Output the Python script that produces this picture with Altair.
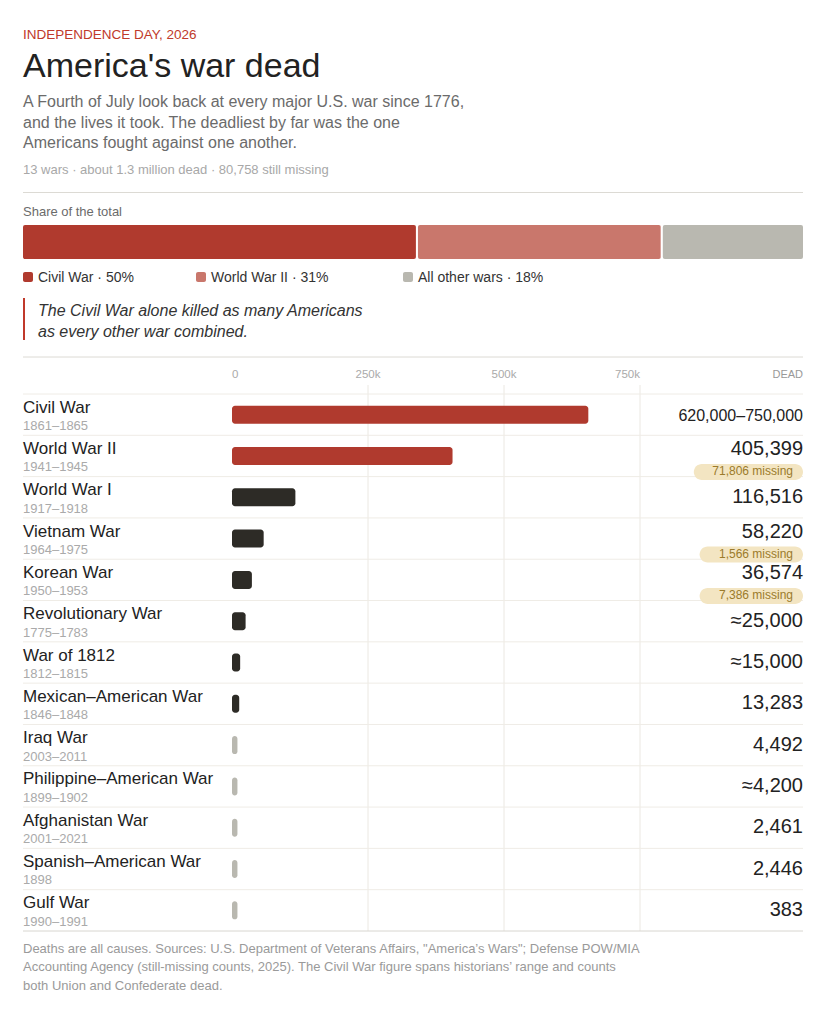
import altair as alt
import pandas as pd

# ---------------- data ----------------
WARS = ["Civil War", "World War II", "World War I", "Vietnam War", "Korean War",
        "Revolutionary War", "War of 1812", "Mexican–American War", "Iraq War",
        "Philippine–American War", "Afghanistan War", "Spanish–American War", "Gulf War"]
YEARS = ["1861–1865", "1941–1945", "1917–1918", "1964–1975", "1950–1953",
         "1775–1783", "1812–1815", "1846–1848", "2003–2011",
         "1899–1902", "2001–2021", "1898", "1990–1991"]
DEAD = [655000, 405399, 116516, 58220, 36574, 25000, 15000, 13283, 4492, 4200, 2461, 2446, 383]
DEAD_LABELS = ["620,000–750,000", "405,399", "116,516", "58,220", "36,574", "≈25,000",
               "≈15,000", "13,283", "4,492", "≈4,200", "2,461", "2,446", "383"]
MISSING = [None, 71806, None, 1566, 7386, None, None, None, None, None, None, None, None]

SHARE_NAMES = ["Civil War", "World War II", "All other wars"]
SHARE_PCT = [50, 31, 18]

TICKS = [0, 250000, 500000, 750000]
TICK_LABELS = ["0", "250k", "500k", "750k"]

EYEBROW = "INDEPENDENCE DAY, 2026"
TITLE = "America's war dead"
SUBTITLE = ["A Fourth of July look back at every major U.S. war since 1776,",
            "and the lives it took. The deadliest by far was the one",
            "Americans fought against one another."]
STATS = "13 wars · about 1.3 million dead · 80,758 still missing"
SHARE_TITLE = "Share of the total"
QUOTE = ["The Civil War alone killed as many Americans",
         "as every other war combined."]
FOOTER = ["Deaths are all causes. Sources: U.S. Department of Veterans Affairs, \"America’s Wars\"; Defense POW/MIA",
          "Accounting Agency (still-missing counts, 2025). The Civil War figure spans historians’ range and counts",
          "both Union and Confederate dead."]

# ---------------- style / layout ----------------
FONT = "Liberation Sans"
RED, PINK, GRAY, DARK = "#b03a2e", "#c9776c", "#b9b8b0", "#2d2b26"
PILL_FILL, PILL_TEXT = "#f3e5c2", "#9b7b2b"
LEFT, RIGHT = 15, 795
LEG_X = [15, 188, 395]

rows = pd.DataFrame({
    "war": WARS, "years": YEARS, "dead": DEAD, "label": DEAD_LABELS,
    "missing_label": [f"{int(m):,} missing" if m is not None else "" for m in MISSING],
})
rows["group"] = ["top" if i < 2 else ("mid" if d >= 10000 else "low") for i, d in enumerate(DEAD)]
rows["has_pill"] = [m is not None for m in MISSING]
rows["is_range"] = [i == 0 for i in range(len(WARS))]

share = pd.DataFrame({"name": SHARE_NAMES, "pct": SHARE_PCT, "idx": list(range(len(SHARE_NAMES)))})
ticks = pd.DataFrame({"tick": TICKS, "lab": TICK_LABELS})
one = pd.DataFrame({"k": [0]})

XS = alt.Scale(domain=[0, 750000], range=[224, 632])
YS = alt.Scale(domain=WARS, range=[386, 923], paddingInner=0, paddingOuter=0)
Y = alt.Y("war:N", scale=YS, axis=None)


def txt(text, x, y, size, color, align="left", style="normal", lh=None, weight="normal"):
    kw = dict(align=align, baseline="alphabetic", fontSize=size, color=color, font=FONT,
              fontStyle=style, fontWeight=weight)
    if lh:
        kw["lineHeight"] = lh
    return alt.Chart(one).mark_text(**kw).encode(x=alt.value(x), y=alt.value(y), text=alt.value(text))


def hline(y, color):
    return alt.Chart(one).mark_rule(color=color, strokeWidth=1).encode(
        x=alt.value(LEFT), x2=alt.value(RIGHT), y=alt.value(y))


layers = []
# header
layers.append(txt(EYEBROW, LEFT, 31, 13.5, "#c0392b"))
layers.append(txt(TITLE, LEFT, 68.5, 34, "#222222"))
layers.append(txt(SUBTITLE, LEFT, 99.3, 16, "#6b6b6b", lh=20.5))
layers.append(txt(STATS, LEFT, 166, 13, "#a8a8a8"))
layers.append(hline(184.5, "#dcdad4"))
layers.append(txt(SHARE_TITLE, LEFT, 207.7, 13, "#6b6b6b"))

# share bar (stacked, drawn from the share values)
SX = alt.Scale(domain=[0, sum(SHARE_PCT)], range=[LEFT - 1, RIGHT + 1])
layers.append(alt.Chart(share).transform_stack(
    stack="pct", as_=["s0", "s1"], groupby=[], sort=[alt.SortField("idx", order="ascending")]
).mark_rect(stroke="white", strokeWidth=2, cornerRadius=3).encode(
    x=alt.X("s0:Q", scale=SX, axis=None), x2="s1:Q",
    y=alt.value(216), y2=alt.value(252),
    color=alt.Color("name:N", scale=alt.Scale(domain=SHARE_NAMES, range=[RED, PINK, GRAY]), legend=None),
))

# legend
for i, (nm, pc) in enumerate(zip(SHARE_NAMES, SHARE_PCT)):
    col = [RED, PINK, GRAY][i]
    layers.append(alt.Chart(one).mark_rect(color=col, cornerRadius=2).encode(
        x=alt.value(LEG_X[i]), x2=alt.value(LEG_X[i] + 10), y=alt.value(264), y2=alt.value(274)))
    layers.append(txt(f"{nm} · {pc}%", LEG_X[i] + 15, 274, 14, "#333333"))

# quote
layers.append(alt.Chart(one).mark_rule(color="#c0392b", strokeWidth=2).encode(
    x=alt.value(16), y=alt.value(290), y2=alt.value(332)))
layers.append(txt(QUOTE, 30, 307.5, 16, "#333333", style="italic", lh=21))

layers.append(hline(349, "#dcdad4"))

# axis labels
for flt, al in [("datum.tick == 0", "left"),
                ("datum.tick > 0 && datum.tick < 750000", "center"),
                ("datum.tick == 750000", "right")]:
    layers.append(alt.Chart(ticks).transform_filter(flt).mark_text(
        align=al, baseline="alphabetic", fontSize=11.5, color="#aaaaaa", font=FONT).encode(
        x=alt.X("tick:Q", scale=XS, axis=None), y=alt.value(370), text="lab:N"))
layers.append(txt("DEAD", RIGHT, 370, 11, "#999999", align="right"))

# gridlines
layers.append(alt.Chart(ticks).transform_filter("datum.tick > 0").mark_rule(color="#ebe8e2").encode(
    x=alt.X("tick:Q", scale=XS, axis=None), y=alt.value(377), y2=alt.value(923)))

# row separators
layers.append(alt.Chart(rows).mark_rule(color="#efece6", strokeWidth=1).encode(
    y=alt.Y("war:N", scale=YS, axis=None, bandPosition=0), x=alt.value(LEFT), x2=alt.value(RIGHT)))
layers.append(hline(923, "#d8d6d0"))

# bars
layers.append(alt.Chart(rows).transform_calculate(bar_value="max(datum.dead, 10000)").mark_bar(
    height=18, cornerRadius=3).encode(
    x=alt.X("bar_value:Q", scale=XS, axis=None, stack=None),
    y=Y,
    color=alt.Color("group:N", scale=alt.Scale(domain=["top", "mid", "low"], range=[RED, DARK, GRAY]), legend=None),
))

# row labels
layers.append(alt.Chart(rows).mark_text(align="left", baseline="alphabetic", dy=-2, fontSize=17,
                                        color="#222222", font=FONT).encode(
    x=alt.value(LEFT), y=Y, text="war:N"))
layers.append(alt.Chart(rows).mark_text(align="left", baseline="alphabetic", dy=15.4, fontSize=13,
                                        color="#aaaaaa", font=FONT).encode(
    x=alt.value(LEFT), y=Y, text="years:N"))

# values
layers.append(alt.Chart(rows).transform_filter("datum.is_range").mark_text(
    align="right", baseline="alphabetic", dy=6, fontSize=16, color="#222222", font=FONT).encode(
    x=alt.value(RIGHT), y=Y, text="label:N"))
layers.append(alt.Chart(rows).transform_filter("!datum.is_range && !datum.has_pill").mark_text(
    align="right", baseline="alphabetic", dy=5.5, fontSize=20, color="#222222", font=FONT).encode(
    x=alt.value(RIGHT), y=Y, text="label:N"))
layers.append(alt.Chart(rows).transform_filter("datum.has_pill").mark_text(
    align="right", baseline="alphabetic", dy=-0.5, fontSize=20, color="#222222", font=FONT).encode(
    x=alt.value(RIGHT), y=Y, text="label:N"))

# missing pills
layers.append(alt.Chart(rows).transform_filter("datum.has_pill").transform_calculate(
    pill_x=f"{RIGHT} - (length(datum.missing_label) * 5.8 + 28)", pill_x2=f"{RIGHT}").mark_bar(
    height=16, yOffset=16, cornerRadius=8, color=PILL_FILL).encode(
    x=alt.X("pill_x:Q", scale=None), x2="pill_x2:Q", y=Y))
layers.append(alt.Chart(rows).transform_filter("datum.has_pill").mark_text(
    align="right", baseline="alphabetic", dy=19.5, fontSize=12, color=PILL_TEXT, font=FONT).encode(
    x=alt.value(RIGHT - 10), y=Y, text="missing_label:N"))

# footer
layers.append(txt(FOOTER, LEFT, 944.5, 13, "#9a9a9a", lh=18.5))

chart = alt.layer(*layers).properties(
    width=805, height=1000, padding=0, autosize="none"
).resolve_scale(x="independent", y="independent", color="independent").configure_view(stroke=None)

chart.save("out.html", embed_options={"renderer": "svg", "actions": False})
